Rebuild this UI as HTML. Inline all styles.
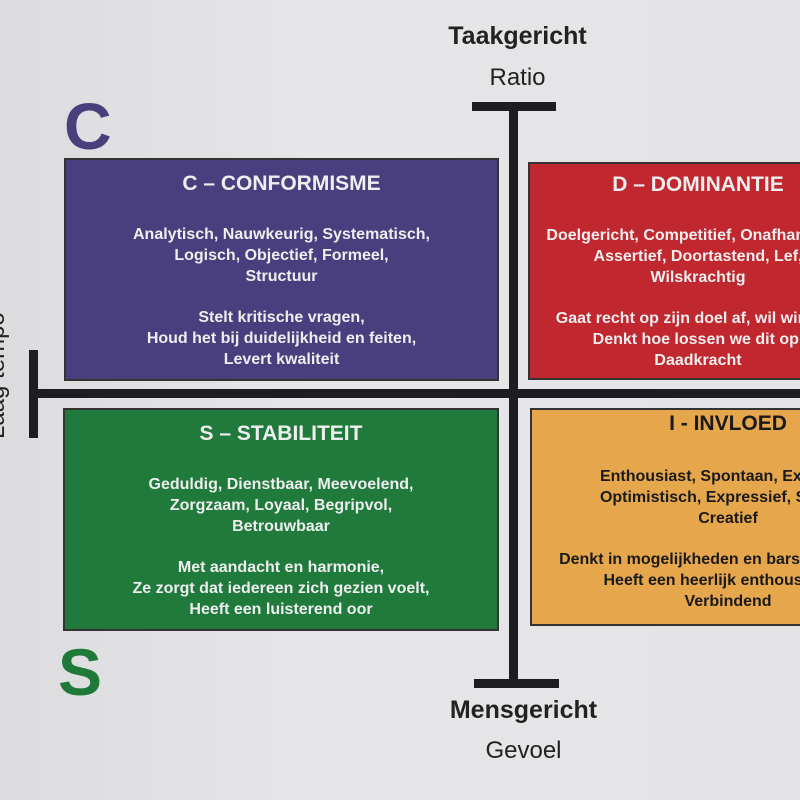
<!DOCTYPE html>
<html><head><meta charset="utf-8"><style>
html,body{margin:0;padding:0}
body{width:800px;height:800px;overflow:hidden;position:relative;background:linear-gradient(90deg,#dcdcde,#e6e6e8 40%,#e4e4e6);font-family:"Liberation Sans",sans-serif;font-weight:bold}
.a{position:absolute}
.box{position:absolute;box-sizing:border-box;border:2px solid #333;overflow:hidden}
.in{position:absolute;left:0;top:0;text-align:center;color:#eee;font-size:16px;line-height:21px;white-space:nowrap}
.in .t{font-size:21px;line-height:24px}
.bar{position:absolute;background:#1e1e20}
</style></head><body>
<div class="a" style="left:420px;top:22px;width:195px;text-align:center;font-size:25px;color:#222">Taakgericht</div>
<div class="a" style="left:420px;top:64px;width:195px;text-align:center;font-size:24px;font-weight:normal;color:#222">Ratio</div>
<div class="a" style="left:420px;top:696px;width:207px;text-align:center;font-size:25px;color:#222">Mensgericht</div>
<div class="a" style="left:420px;top:737px;width:207px;text-align:center;font-size:24px;font-weight:normal;color:#222">Gevoel</div>
<div class="a" style="left:64px;top:88px;font-size:66px;color:#4a3f7c">C</div>
<div class="a" style="left:58px;top:634px;font-size:66px;color:#1f7a3a">S</div>
<div class="a" style="left:-58px;top:370px;width:110px;transform:rotate(-90deg);font-size:24px;font-weight:normal;color:#222;white-space:nowrap">Laag tempo</div>

<div class="box" style="left:64px;top:158px;width:435px;height:223px;background:#4a3f7e">
<div class="in" style="width:431px">
<div class="t" style="margin-top:12px">C – CONFORMISME</div>
<div style="margin-top:28px">Analytisch, Nauwkeurig, Systematisch,<br>Logisch, Objectief, Formeel,<br>Structuur</div>
<div style="margin-top:20px">Stelt kritische vragen,<br>Houd het bij duidelijkheid en feiten,<br>Levert kwaliteit</div></div></div>

<div class="box" style="left:528px;top:162px;width:272px;height:218px;background:#c0272f;border-right:none">
<div class="in" style="width:336px">
<div class="t" style="margin-top:9px">D – DOMINANTIE</div>
<div style="margin-top:28px">Doelgericht, Competitief, Onafhankelijk,<br>Assertief, Doortastend, Lef,<br>Wilskrachtig</div>
<div style="margin-top:20px">Gaat recht op zijn doel af, wil winnen,<br>Denkt hoe lossen we dit op,<br>Daadkracht</div></div></div>

<div class="box" style="left:63px;top:408px;width:436px;height:223px;background:#1f7a3c">
<div class="in" style="width:432px">
<div class="t" style="margin-top:12px">S – STABILITEIT</div>
<div style="margin-top:28px">Geduldig, Dienstbaar, Meevoelend,<br>Zorgzaam, Loyaal, Begripvol,<br>Betrouwbaar</div>
<div style="margin-top:20px">Met aandacht en harmonie,<br>Ze zorgt dat iedereen zich gezien voelt,<br>Heeft een luisterend oor</div></div></div>

<div class="box" style="left:530px;top:408px;width:270px;height:218px;background:#e6a64c;border-right:none">
<div class="in" style="width:392px;color:#1a1a1a">
<div class="t" style="margin-top:2px">I - INVLOED</div>
<div style="margin-top:30px">Enthousiast, Spontaan, Extravert,<br>Optimistisch, Expressief, Sociaal,<br>Creatief</div>
<div style="margin-top:20px">Denkt in mogelijkheden en barst van ideeën,<br>Heeft een heerlijk enthousiasme,<br>Verbindend</div></div></div>

<div class="bar" style="left:509px;top:104px;width:9px;height:582px"></div>
<div class="bar" style="left:472px;top:102px;width:84px;height:9px"></div>
<div class="bar" style="left:474px;top:679px;width:85px;height:9px"></div>
<div class="bar" style="left:30px;top:389px;width:770px;height:9px"></div>
<div class="bar" style="left:29px;top:350px;width:9px;height:88px"></div>
</body></html>
